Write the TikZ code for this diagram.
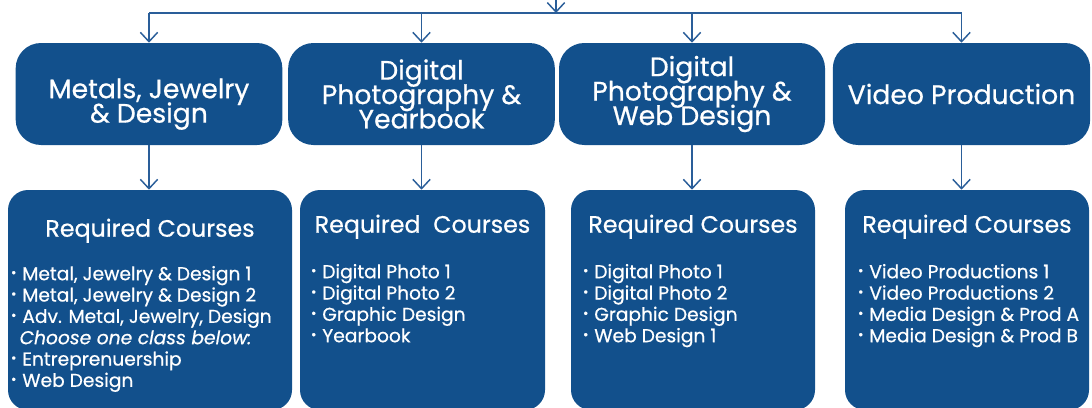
\documentclass[tikz,border=0pt]{standalone}
\usepackage{fontspec}
\setmainfont{Poppins}[FakeBold=0.6]
\usetikzlibrary{arrows.meta,positioning}
\definecolor{pathblue}{HTML}{12508C}
\definecolor{pathline}{HTML}{2A5E99}
\newcommand{\bul}{\makebox[8.5pt][l]{\raisebox{0.3ex}{\fontsize{10}{10}\selectfont\textbullet}}}

\begin{document}
\begin{tikzpicture}[x=0.75pt,y=-0.75pt,
    topbox/.style={fill=pathblue, rounded corners=19pt, text=white, align=center,
        minimum height=76.5pt, inner sep=0pt,
        font={\fontsize{20}{18.3}\selectfont\lineskiplimit=-20pt}},
    coursebox/.style={fill=pathblue, rounded corners=15pt, minimum height=165pt, inner sep=0pt},
    head/.style={text=white, anchor=base, inner sep=0pt, font={\fontsize{17.8}{21}\selectfont}},
    courselist/.style={text=white, align=left, anchor=north west, inner sep=0pt,
        font={\fontsize{14}{16}\selectfont\lineskiplimit=-20pt}},
    conn/.style={pathline, line width=1.1pt, -{Straight Barb[length=7pt,width=13pt]}}]
    \useasboundingbox (0,0) rectangle (1092,407);

    % Program boxes
    \node[topbox, minimum width=200pt] (t1) at (149,94) {\rule{0pt}{30pt}Metals, Jewelry\\\& Design};
    \node[topbox, minimum width=200pt] (t2) at (421.5,94) {Digital\\Photography \&\\Yearbook};
    \node[topbox, minimum width=199.5pt] (t3) at (692,94) {Digital\\Photography \&\\Web Design};
    \node[topbox, minimum width=193pt] (t4) at (961.5,94) {Video Production};

    % Course boxes
    \node[coursebox, minimum width=213pt] (b1) at (150,300) {};
    \node[coursebox, minimum width=183.75pt] (b2) at (422.5,300) {};
    \node[coursebox, minimum width=183pt] (b3) at (693,300) {};
    \node[coursebox, minimum width=183pt] (b4) at (967,300) {};

    % Headings
    \node[head] (h1) at ([yshift=-35.25pt]b1.north) {Required Courses};
    \node[head] (h2) at ([yshift=-32.25pt]b2.north) {Required\ \ Courses};
    \node[head] (h3) at ([yshift=-32.25pt]b3.north) {Required Courses};
    \node[head] (h4) at ([yshift=-32.25pt]b4.north) {Required Courses};

    % Course lists
    \node[courselist, below right=57pt and 2.25pt of b1.north west] (l1) {%
        \bul Metal, Jewelry \& Design 1\\
        \bul Metal, Jewelry \& Design 2\\
        \bul Adv. Metal, Jewelry, Design\\
        \hspace{6.5pt}\itshape Choose one class below:\\
        \bul Entreprenuership\\
        \bul Web Design};
    \node[courselist, below right=55.5pt and 8.25pt of b2.north west] (l2) {%
        \bul Digital Photo 1\\
        \bul Digital Photo 2\\
        \bul Graphic Design\\
        \bul Yearbook};
    \node[courselist, below right=55.5pt and 9pt of b3.north west] (l3) {%
        \bul Digital Photo 1\\
        \bul Digital Photo 2\\
        \bul Graphic Design\\
        \bul Web Design 1};
    \node[courselist, below right=55.5pt and 9.75pt of b4.north west] (l4) {%
        \bul Video Productions 1\\
        \bul Video Productions 2\\
        \bul Media Design \& Prod A\\
        \bul Media Design \& Prod B};

    % Branch from the top
    \coordinate (src) at (556,-4);
    \coordinate (bus) at (556,13);
    \draw[conn] (src) -- (bus);
    \draw[pathline, line width=1.1pt] (t1.north |- bus) -- (t4.north |- bus);
    \foreach \i in {1,2,3,4} {
        \draw[conn] (t\i.north |- bus) -- (t\i.north);
        \draw[conn] (t\i.south) -- (t\i.south |- b\i.north);
    }
\end{tikzpicture}
\end{document}
